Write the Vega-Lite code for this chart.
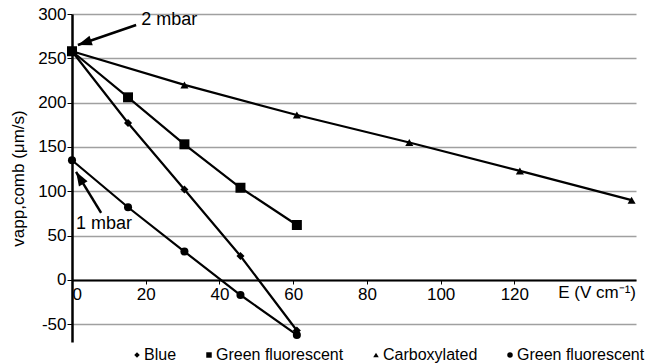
{
  "$schema": "https://vega.github.io/schema/vega-lite/v6.json",
  "width": 564,
  "height": 328,
  "padding": {"left": 9, "top": 5, "right": 5, "bottom": 0},
  "background": "white",
  "config": {
    "font": "Liberation Sans",
    "view": {"stroke": null}
  },
  "datasets": {
    "points": [
      {"series": "Blue", "E": 0, "v": 258},
      {"series": "Blue", "E": 15.2, "v": 177},
      {"series": "Blue", "E": 30.5, "v": 102},
      {"series": "Blue", "E": 45.7, "v": 27},
      {"series": "Blue", "E": 61, "v": -57},
      {"series": "Green fluorescent", "E": 0, "v": 258},
      {"series": "Green fluorescent", "E": 15.2, "v": 206},
      {"series": "Green fluorescent", "E": 30.5, "v": 153},
      {"series": "Green fluorescent", "E": 45.7, "v": 104},
      {"series": "Green fluorescent", "E": 61, "v": 62},
      {"series": "Carboxylated", "E": 0, "v": 258},
      {"series": "Carboxylated", "E": 30.5, "v": 220},
      {"series": "Carboxylated", "E": 61, "v": 186},
      {"series": "Carboxylated", "E": 91.5, "v": 155},
      {"series": "Carboxylated", "E": 121.5, "v": 123},
      {"series": "Carboxylated", "E": 151.8, "v": 90},
      {"series": "Green fluorescent (1 mbar)", "E": 0, "v": 135},
      {"series": "Green fluorescent (1 mbar)", "E": 15.2, "v": 82},
      {"series": "Green fluorescent (1 mbar)", "E": 30.5, "v": 32},
      {"series": "Green fluorescent (1 mbar)", "E": 45.7, "v": -17},
      {"series": "Green fluorescent (1 mbar)", "E": 61, "v": -62}
    ],
    "arrows": [
      {"label": "2 mbar", "E": 17.4, "v": 287.6, "E2": 1.6, "v2": 265, "angle": 251},
      {"label": "1 mbar", "E": 7.9, "v": 75.6, "E2": 1.1, "v2": 122, "angle": 329}
    ],
    "notes": [
      {"label": "2 mbar", "E": 18.8, "v": 293, "weight": "normal"},
      {"label": "1 mbar", "E": 1.1, "v": 63, "weight": "bold"}
    ],
    "xtitle": [
      {"label": "E (V cm⁻¹)", "E": 153, "v": 0}
    ]
  },
  "encoding": {
    "x": {
      "field": "E",
      "type": "quantitative",
      "scale": {"domain": [0, 153], "nice": false, "zero": false},
      "axis": {
        "values": [0, 20, 40, 60, 80, 100, 120],
        "offset": -62,
        "title": null,
        "grid": false,
        "domainColor": "black",
        "domainWidth": 2,
        "tickColor": "black",
        "tickSize": 4,
        "labelFontSize": 17,
        "labelColor": "black",
        "labelPadding": 2
      }
    },
    "y": {
      "field": "v",
      "type": "quantitative",
      "scale": {"domain": [-70, 300], "nice": false, "zero": false},
      "axis": {
        "values": [-50, 0, 50, 100, 150, 200, 250, 300],
        "labelExpr": "replace(datum.label, '−', '-')",
        "grid": true,
        "gridColor": "#a0a0a0",
        "gridWidth": 1.5,
        "domainColor": "black",
        "domainWidth": 2.5,
        "tickColor": "black",
        "tickSize": 5,
        "labelFontSize": 17,
        "labelColor": "black",
        "labelPadding": 1,
        "title": "vapp,comb (μm/s)",
        "titleFontSize": 17,
        "titleFontWeight": "normal",
        "titleColor": "black",
        "titlePadding": 10
      }
    }
  },
  "layer": [
    {
      "data": {"name": "points"},
      "mark": {"type": "line", "color": "black", "strokeWidth": 2.2},
      "encoding": {
        "detail": {"field": "series", "type": "nominal"},
        "order": {"field": "E", "type": "quantitative"}
      }
    },
    {
      "data": {"name": "points"},
      "transform": [{"filter": "datum.series != 'Green fluorescent'"}],
      "mark": {"type": "point", "filled": true, "color": "black", "opacity": 1, "size": 65},
      "encoding": {
        "shape": {
          "field": "series",
          "type": "nominal",
          "scale": {
            "domain": ["Blue", "Green fluorescent", "Carboxylated", "Green fluorescent (1 mbar)"],
            "range": ["diamond", "square", "triangle-up", "circle"]
          },
          "legend": {
            "title": null,
            "orient": "none",
            "legendX": 57,
            "legendY": 333,
            "direction": "horizontal",
            "columns": 4,
            "padding": 0,
            "labelFontSize": 16,
            "labelColor": "black",
            "symbolSize": 30,
            "symbolFillColor": "black",
            "symbolStrokeColor": "black",
            "labelOffset": -1,
            "columnPadding": 24,
            "labelExpr": "datum.label == 'Green fluorescent (1 mbar)' ? 'Green fluorescent' : datum.label"
          }
        }
      }
    },
    {
      "data": {"name": "points"},
      "transform": [{"filter": "datum.series == 'Green fluorescent'"}],
      "mark": {"type": "point", "filled": true, "color": "black", "opacity": 1, "size": 100},
      "encoding": {
        "shape": {
          "field": "series",
          "type": "nominal",
          "scale": {
            "domain": ["Blue", "Green fluorescent", "Carboxylated", "Green fluorescent (1 mbar)"],
            "range": ["diamond", "square", "triangle-up", "circle"]
          },
          "legend": {
            "title": null,
            "orient": "none",
            "legendX": 57,
            "legendY": 333,
            "direction": "horizontal",
            "columns": 4,
            "padding": 0,
            "labelFontSize": 16,
            "labelColor": "black",
            "symbolSize": 30,
            "symbolFillColor": "black",
            "symbolStrokeColor": "black",
            "labelOffset": -1,
            "columnPadding": 24,
            "labelExpr": "datum.label == 'Green fluorescent (1 mbar)' ? 'Green fluorescent' : datum.label"
          }
        }
      }
    },
    {
      "data": {"name": "arrows"},
      "mark": {"type": "rule", "color": "black", "strokeWidth": 2.5},
      "encoding": {
        "x2": {"field": "E2"},
        "y2": {"field": "v2"}
      }
    },
    {
      "data": {"name": "arrows"},
      "mark": {"type": "point", "filled": true, "color": "black", "opacity": 1, "shape": "M0,0L-0.36,1L0.36,1Z", "size": 784},
      "encoding": {
        "x": {"field": "E2", "type": "quantitative"},
        "y": {"field": "v2", "type": "quantitative"},
        "angle": {"field": "angle", "type": "quantitative", "scale": null}
      }
    },
    {
      "data": {"name": "notes"},
      "mark": {"type": "text", "align": "left", "baseline": "middle", "fontSize": 18, "color": "black"},
      "encoding": {
        "text": {"field": "label"},
        "fontWeight": {"field": "weight", "type": "nominal", "scale": null}
      }
    },
    {
      "data": {"name": "xtitle"},
      "mark": {"type": "text", "align": "right", "baseline": "top", "dy": 5, "fontSize": 17, "color": "black"},
      "encoding": {
        "text": {"field": "label"}
      }
    }
  ]
}
